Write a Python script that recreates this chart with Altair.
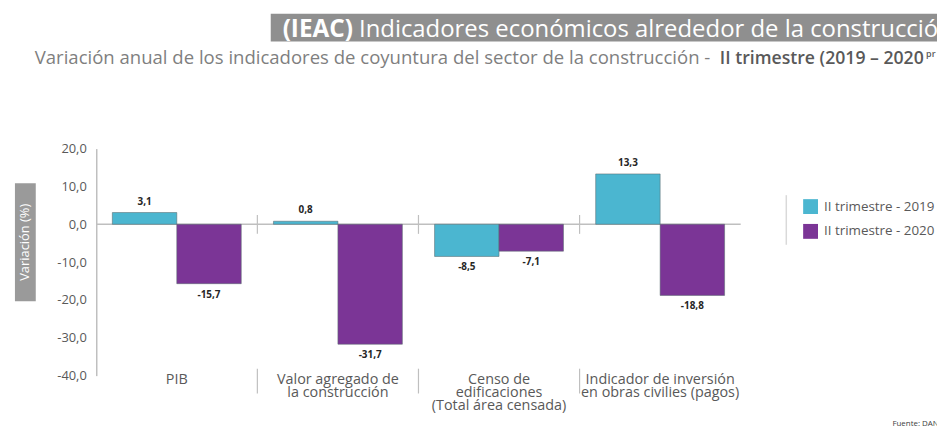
import altair as alt
import pandas as pd

categories = [
    "PIB",
    "Valor agregado de\nla construcción",
    "Censo de\nedificaciones\n(Total área censada)",
    "Indicador de inversión\nen obras civilies (pagos)",
]
series = ["II trimestre - 2019", "II trimestre - 2020"]
values_2019 = [3.1, 0.8, -8.5, 13.3]
values_2020 = [-15.7, -31.7, -7.1, -18.8]
y_ticks = [-40, -30, -20, -10, 0, 10, 20]
colors = ["#4BB6D0", "#7B3596"]

rows = []
for c, a, b in zip(categories, values_2019, values_2020):
    rows.append({"cat": c, "serie": series[0], "v": a})
    rows.append({"cat": c, "serie": series[1], "v": b})
df = pd.DataFrame(rows)

FONT = "Open Sans"
W, H = 650, 229
FMT = "replace(replace(format({v}, '.1f'), '.', ','), '\u2212', '-')"

xscale = alt.Scale(domain=categories, paddingInner=0, paddingOuter=0)
yscale = alt.Scale(domain=[-40, 20], nice=False, zero=False)

X = alt.X("cat:N", scale=xscale, sort=categories,
          axis=alt.Axis(title=None, domain=False, ticks=False, labelAngle=0,
                        labelAlign="center",
                        labelExpr="split(datum.label, '\\n')",
                        labelColor="#595959", labelFont=FONT, labelFontSize=14.5,
                        labelLineHeight=13, labelPadding=-3, labelBaseline="top"))
XO = alt.XOffset("serie:N", sort=series, scale=alt.Scale(paddingInner=0, paddingOuter=0.25))
Y = alt.Y("v:Q", scale=yscale,
          axis=alt.Axis(title=None, values=y_ticks, grid=False, ticks=False,
                        labelExpr=FMT.format(v="datum.value"),
                        labelColor="#595959", labelFont=FONT, labelFontSize=13,
                        labelPadding=10, domainColor="#bfbfbf", domainWidth=1.5))

base = alt.Chart(df)

bars = base.mark_bar(stroke="#5a6a70", strokeWidth=0.8, strokeOpacity=0.7).encode(
    x=X, xOffset=XO, y=Y,
    color=alt.Color("serie:N", sort=series,
                    scale=alt.Scale(domain=series, range=colors),
                    legend=alt.Legend(title=None, orient="none", legendX=713, legendY=51,
                                      symbolType="square", symbolSize=225,
                                      symbolStrokeWidth=0, rowPadding=10,
                                      labelFont=FONT, labelFontSize=13.5,
                                      labelColor="#595959", labelOffset=6)),
)

lab_pos = base.transform_filter("datum.v >= 0").transform_calculate(
    lbl=FMT.format(v="datum.v")
).mark_text(font=FONT, fontSize=10, fontWeight="bold", color="#262626",
            baseline="bottom", dy=-6).encode(x=X, xOffset=XO, y=Y, text="lbl:N")

lab_neg = base.transform_filter("datum.v < 0").transform_calculate(
    lbl=FMT.format(v="datum.v")
).mark_text(font=FONT, fontSize=10, fontWeight="bold", color="#262626",
            baseline="top", dy=6).encode(x=X, xOffset=XO, y=Y, text="lbl:N")

one = pd.DataFrame({"a": [0]})

zero_line = alt.Chart(pd.DataFrame({"v": [0]})).mark_rule(color="#bfbfbf", strokeWidth=1.5).encode(
    x=alt.value(0), x2=alt.value(W), y=Y)

sep_df = pd.DataFrame({"cat": categories[1:]})
sep_top = alt.Chart(sep_df).mark_rule(color="#bfbfbf", strokeWidth=1.2).encode(
    x=alt.X("cat:N", bandPosition=0, sort=categories, scale=xscale),
    y=alt.value(67), y2=alt.value(86))
sep_bot = alt.Chart(sep_df).mark_rule(color="#bfbfbf", strokeWidth=1.2).encode(
    x=alt.X("cat:N", bandPosition=0, sort=categories, scale=xscale),
    y=alt.value(222), y2=alt.value(247))

# Decorations: title box, subtitle, axis title box, legend line, source
title_box = alt.Chart(one).mark_rect(color="#8f8f8f").encode(
    x=alt.value(176), x2=alt.value(880), y=alt.value(-136), y2=alt.value(-108))
title_bold = alt.Chart(one).mark_text(text="(IEAC)", font=FONT, fontSize=24.5, fontWeight="bold",
                                      color="white", align="left", baseline="alphabetic").encode(
    x=alt.value(188), y=alt.value(-113))
title_rest = alt.Chart(one).mark_text(text="Indicadores económicos alrededor de la construcción",
                                      font=FONT, fontSize=24.1, color="white", align="left",
                                      baseline="alphabetic").encode(
    x=alt.value(265), y=alt.value(-113))
sub_norm = alt.Chart(one).mark_text(
    text="Variación anual de los indicadores de coyuntura del sector de la construcción -",
    font=FONT, fontSize=18.7, color="#7f7f7f", align="left", baseline="alphabetic").encode(
    x=alt.value(-62), y=alt.value(-85))
sub_bold = alt.Chart(one).mark_text(
    text="II trimestre (2019 – 2020", font=FONT, fontSize=17.8, fontWeight=600,
    color="#595959", align="left", baseline="alphabetic").encode(
    x=alt.value(629), y=alt.value(-85))
sub_sup = alt.Chart(one).mark_text(
    text="pr", font=FONT, fontSize=9, fontWeight=600,
    color="#595959", align="left", baseline="alphabetic").encode(
    x=alt.value(837), y=alt.value(-92))

ytitle_box = alt.Chart(one).mark_rect(color="#9a9a9a").encode(
    x=alt.value(-82), x2=alt.value(-61), y=alt.value(35), y2=alt.value(154))
ytitle = alt.Chart(one).mark_text(text="Variación  (%)", font=FONT, fontSize=13, color="white",
                                  angle=270, align="center", baseline="middle").encode(
    x=alt.value(-71.5), y=alt.value(94.5))

legend_line = alt.Chart(one).mark_rule(color="#d9d9d9", strokeWidth=1.5).encode(
    x=alt.value(696), y=alt.value(47), y2=alt.value(97))

source = alt.Chart(one).mark_text(text="Fuente: DANE", font=FONT, fontSize=8, color="#404040",
                                  align="left", baseline="middle").encode(
    x=alt.value(803), y=alt.value(278))

chart = alt.layer(
    title_box, title_bold, title_rest, sub_norm, sub_bold, sub_sup,
    ytitle_box, ytitle, legend_line, source,
    zero_line, sep_top, sep_bot, bars, lab_pos, lab_neg,
).properties(
    width=W, height=H,
    autosize=alt.AutoSizeParams(type="none"),
    padding={"left": 89, "top": 140, "right": 198, "bottom": 50},
    background="white",
).configure_view(stroke=None, strokeWidth=0)

chart.save("out.html", embed_options={"renderer": "svg", "actions": False})
